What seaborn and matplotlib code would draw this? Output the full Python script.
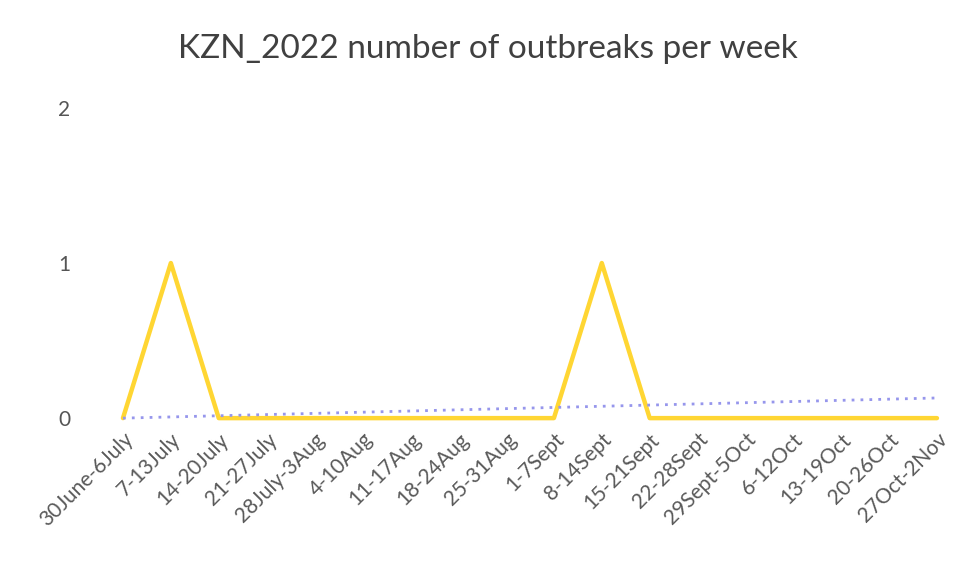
import numpy as np
import pandas as pd
import matplotlib
matplotlib.use("Agg")
import matplotlib.pyplot as plt
import seaborn as sns

weeks = ["30June-6July", "7-13July", "14-20July", "21-27July", "28July-3Aug",
         "4-10Aug", "11-17Aug", "18-24Aug", "25-31Aug", "1-7Sept", "8-14Sept",
         "15-21Sept", "22-28Sept", "29Sept-5Oct", "6-12Oct", "13-19Oct",
         "20-26Oct", "27Oct-2Nov"]
outbreaks = [0, 1, 0, 0, 0, 0, 0, 0, 0, 0, 1, 0, 0, 0, 0, 0, 0, 0]
# dotted trend line, start and end values
trend_ends = [0.0, 0.13]

sns.set_theme(style="white")
plt.rcParams["font.family"] = ["Lato", "DejaVu Sans"]

df = pd.DataFrame({"week": weeks, "outbreaks": outbreaks, "pos": np.arange(len(weeks))})

fig = plt.figure(figsize=(9.76, 5.62), dpi=100)
ax = fig.add_axes([0.126, 0.256, 0.834, 0.552])

sns.lineplot(data=df, x="pos", y="outbreaks", ax=ax, color="#FFD633",
             linewidth=3.2, clip_on=False)
trend_x = [df["pos"].iloc[0], df["pos"].iloc[-1]]
ax.plot(trend_x, trend_ends, linestyle=(0, (1, 2.2)), color="#9696EC",
        linewidth=2, zorder=3, clip_on=False)

ax.set_xlim(0, len(weeks) - 1)
ax.set_ylim(0, 2)
ax.set_yticks([0, 1, 2])
ax.set_xticks(df["pos"])
ax.set_xticklabels(weeks, rotation=45, ha="right", rotation_mode="anchor")
ax.tick_params(axis="y", pad=38, labelsize=15, colors="#555555", length=0)
ax.tick_params(axis="x", pad=8, labelsize=15, colors="#595959", length=0)
ax.set_xlabel("")
ax.set_ylabel("")
sns.despine(ax=ax, left=True, bottom=True)
ax.grid(False)

fig.suptitle("KZN_2022 number of outbreaks per week", x=0.5, y=0.94,
             fontsize=24, color="#404040")

fig.savefig("out.png", dpi=100)
